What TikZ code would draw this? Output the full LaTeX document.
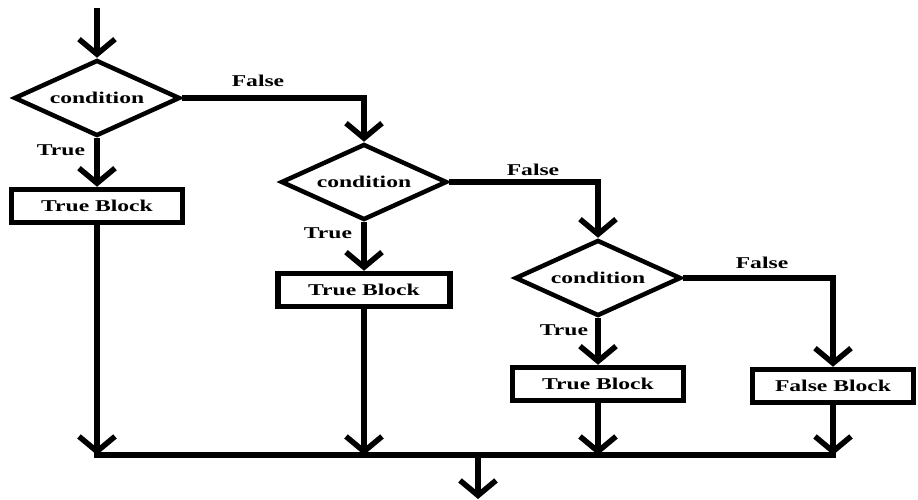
\documentclass[tikz,border=0pt]{standalone}
\usepackage{fontspec}
\setmainfont{Liberation Serif}[FakeStretch=1.43]
\usetikzlibrary{shapes.geometric,arrows.meta}

\begin{document}
\begin{tikzpicture}[x=1pt,y=-1pt,
  every node/.style={font=\fontsize{16.5}{18}\selectfont\bfseries},
  cond/.style={diamond, draw, line width=4.5pt, minimum width=166pt, minimum height=76pt, inner sep=0pt},
  block/.style={rectangle, draw, line width=5.5pt, minimum height=33pt, inner sep=0pt},
  flow/.style={line width=5.5pt, -{Straight Barb[length=15pt,width=36pt]}},
  lbl/.style={inner sep=0pt}]
\useasboundingbox (0,0) rectangle (918,500);

% decisions (text boxed at zero width so the diamond keeps its set size)
\node[cond] (d1) at (97,98) {\makebox[0pt]{condition}};
\node[cond] (d2) at (364,182) {\makebox[0pt]{condition}};
\node[cond] (d3) at (598,278) {\makebox[0pt]{condition}};

% blocks
\node[block, minimum width=171pt] (b1) at (97,206) {True Block};
\node[block, minimum width=172pt] (b2) at (364,290) {True Block};
\node[block, minimum width=171pt] (b3) at (598,384) {True Block};
\node[block, minimum width=161pt] (b4) at (833,386) {False Block};

% branch labels
\node[lbl] (t1) at (61,150) {True};
\node[lbl] (f1) at (258,81) {False};
\node[lbl] (t2) at (328,233) {True};
\node[lbl] (f2) at (533,170) {False};
\node[lbl] (t3) at (564,330) {True};
\node[lbl] (f3) at (762,263) {False};

% entry and exit points, merge line
\coordinate (in) at (97,8);
\coordinate (busL) at (97,455);
\coordinate (busR) at (833,455);
\coordinate (merge) at (478,455);
\coordinate (out) at (478,499);

% connectors
\draw[flow] (in) -- (d1.north);
\draw[flow] (d1.south) -- (b1.north);
\draw[flow] (d1.east) -| (d2.north);
\draw[flow] (d2.south) -- (b2.north);
\draw[flow] (d2.east) -| (d3.north);
\draw[flow] (d3.south) -- (b3.north);
\draw[flow] (d3.east) -| (b4.north);

\draw[flow] (b1.south) -- (b1.south |- busL);
\draw[flow] (b2.south) -- (b2.south |- busL);
\draw[flow] (b3.south) -- (b3.south |- busL);
\draw[flow] (b4.south) -- (b4.south |- busL);
\draw[line width=5.5pt, line cap=rect] (busL) -- (busR);
\draw[flow] (merge) -- (out);
\end{tikzpicture}
\end{document}
